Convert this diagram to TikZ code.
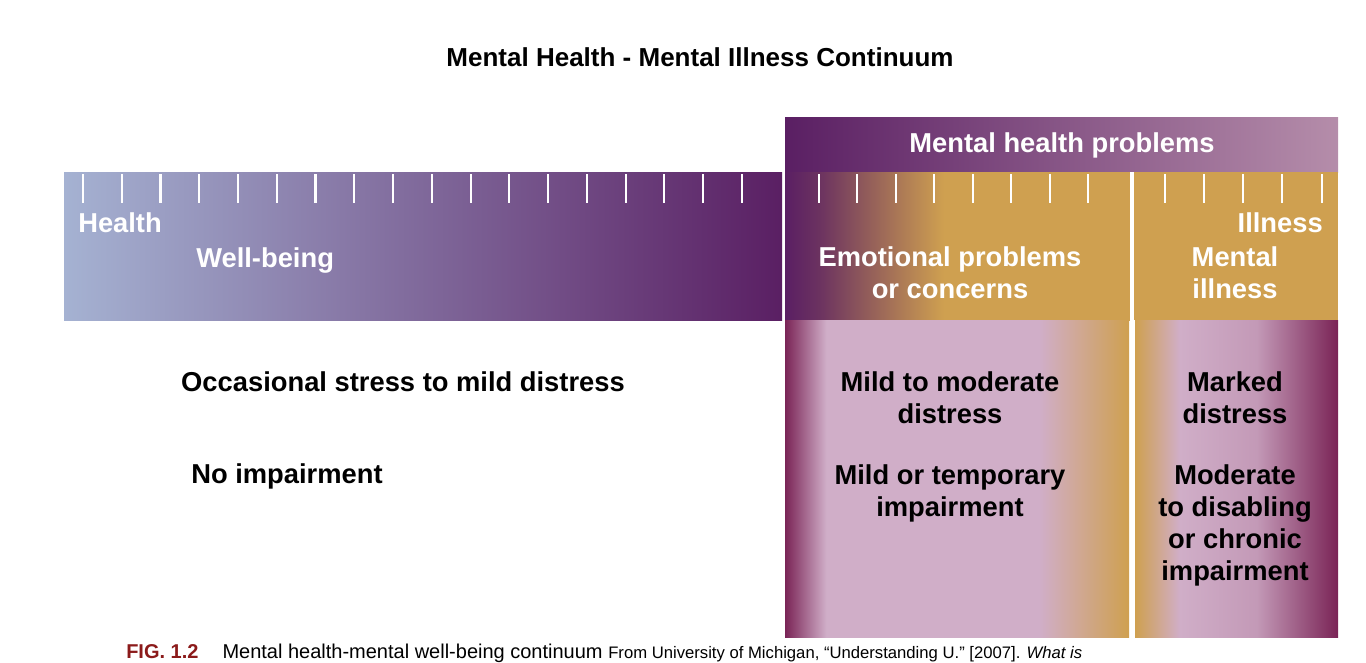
\documentclass[tikz,border=0pt]{standalone}
\usepackage{fontspec}
\setmainfont{Liberation Sans}
\definecolor{hblue}{HTML}{A5B2D2}
\definecolor{dpurp}{HTML}{5A1F63}
\definecolor{mauve}{HTML}{B58DAA}
\definecolor{gold}{HTML}{CFA050}
\definecolor{pinkc}{HTML}{D0AEC8}
\definecolor{mag}{HTML}{7A2456}
\definecolor{figred}{HTML}{8B1A1A}
\pgfdeclarehorizontalshading{emo}{100bp}{color(0bp)=(dpurp); color(25bp)=(dpurp); color(30bp)=(dpurp!85!gold); color(48bp)=(gold); color(100bp)=(gold)}
\pgfdeclarehorizontalshading{lowL}{100bp}{color(0bp)=(mag); color(25bp)=(mag); color(31bp)=(pinkc); color(62bp)=(pinkc); color(75bp)=(gold); color(100bp)=(gold)}
\pgfdeclarehorizontalshading{lowR}{100bp}{color(0bp)=(gold); color(25bp)=(gold); color(36bp)=(pinkc); color(55bp)=(pinkc!85!mag); color(75bp)=(mag); color(100bp)=(mag)}
\tikzset{
  wt/.style={text=white,font=\bfseries\fontsize{20.5}{24}\selectfont,align=center,inner sep=0},
  bt/.style={text=black,font=\bfseries\fontsize{20.5}{24}\selectfont,align=center,inner sep=0},
  tick/.style={white,line width=1.6pt},
}
\begin{document}
\begin{tikzpicture}[x=0.75pt,y=-0.75pt]
\useasboundingbox (0,0) rectangle (1366,662);
% bars
\path[left color=hblue,right color=dpurp] (64,172) rectangle (782,320);
\path[left color=dpurp,right color=mauve] (785,117) rectangle (1338,172);
\path[shading=emo] (785,172) rectangle (1130,320);
\fill[gold] (1130,172) rectangle (1338,320);
\path[shading=lowL] (785,320) rectangle (1129,637);
\path[shading=lowR] (1135,320) rectangle (1338,637);
\draw[white,line width=2.4pt] (1132,172) -- (1132,637);
% ticks
\foreach \i in {0,...,17} \draw[tick] ({83+\i*38.76},174) -- ({83+\i*38.76},203);
\foreach \x in {819,857,896,934,973,1011,1050,1088,1165,1204,1243,1282,1322} \draw[tick] (\x,174) -- (\x,203);
% title
\node[font=\bfseries\fontsize{19.5}{23}\selectfont] (title) at (700,57) {Mental Health - Mental Illness Continuum};
% white labels
\node[wt,anchor=west] (health) at (78,223) {Health};
\node[wt,anchor=west] (well) at (196,260) {Well-being};
\node[wt] (mhp) at (1062,145) {Mental health problems};
\node[wt] (emo) at (950,273) {Emotional problems\\or concerns};
\node[wt,anchor=east] (ill) at (1323,223) {Illness};
\node[wt] (mi) at (1235,273) {Mental\\illness};
% black labels
\node[bt] (occ) at (403,382) {Occasional stress to mild distress};
\node[bt,anchor=west] (noi) at (191,476) {No impairment};
\node[bt] (mmd) at (950,398) {Mild to moderate\\distress};
\node[bt] (mti) at (950,493) {Mild or temporary\\impairment};
\node[bt] (md) at (1235,398) {Marked\\distress};
\node[bt] (mdc) at (1235,525) {Moderate\\to disabling\\or chronic\\impairment};
% caption
\node[anchor=base west,inner sep=0] (cap) at (126,658) {\fontsize{15}{18}\selectfont\textcolor{figred}{\bfseries FIG. 1.2}\hspace{18pt}Mental health-mental well-being continuum \fontsize{12.5}{15}\selectfont From University of Michigan, “Understanding U.” [2007]. \textit{What is}};
\end{tikzpicture}
\end{document}
